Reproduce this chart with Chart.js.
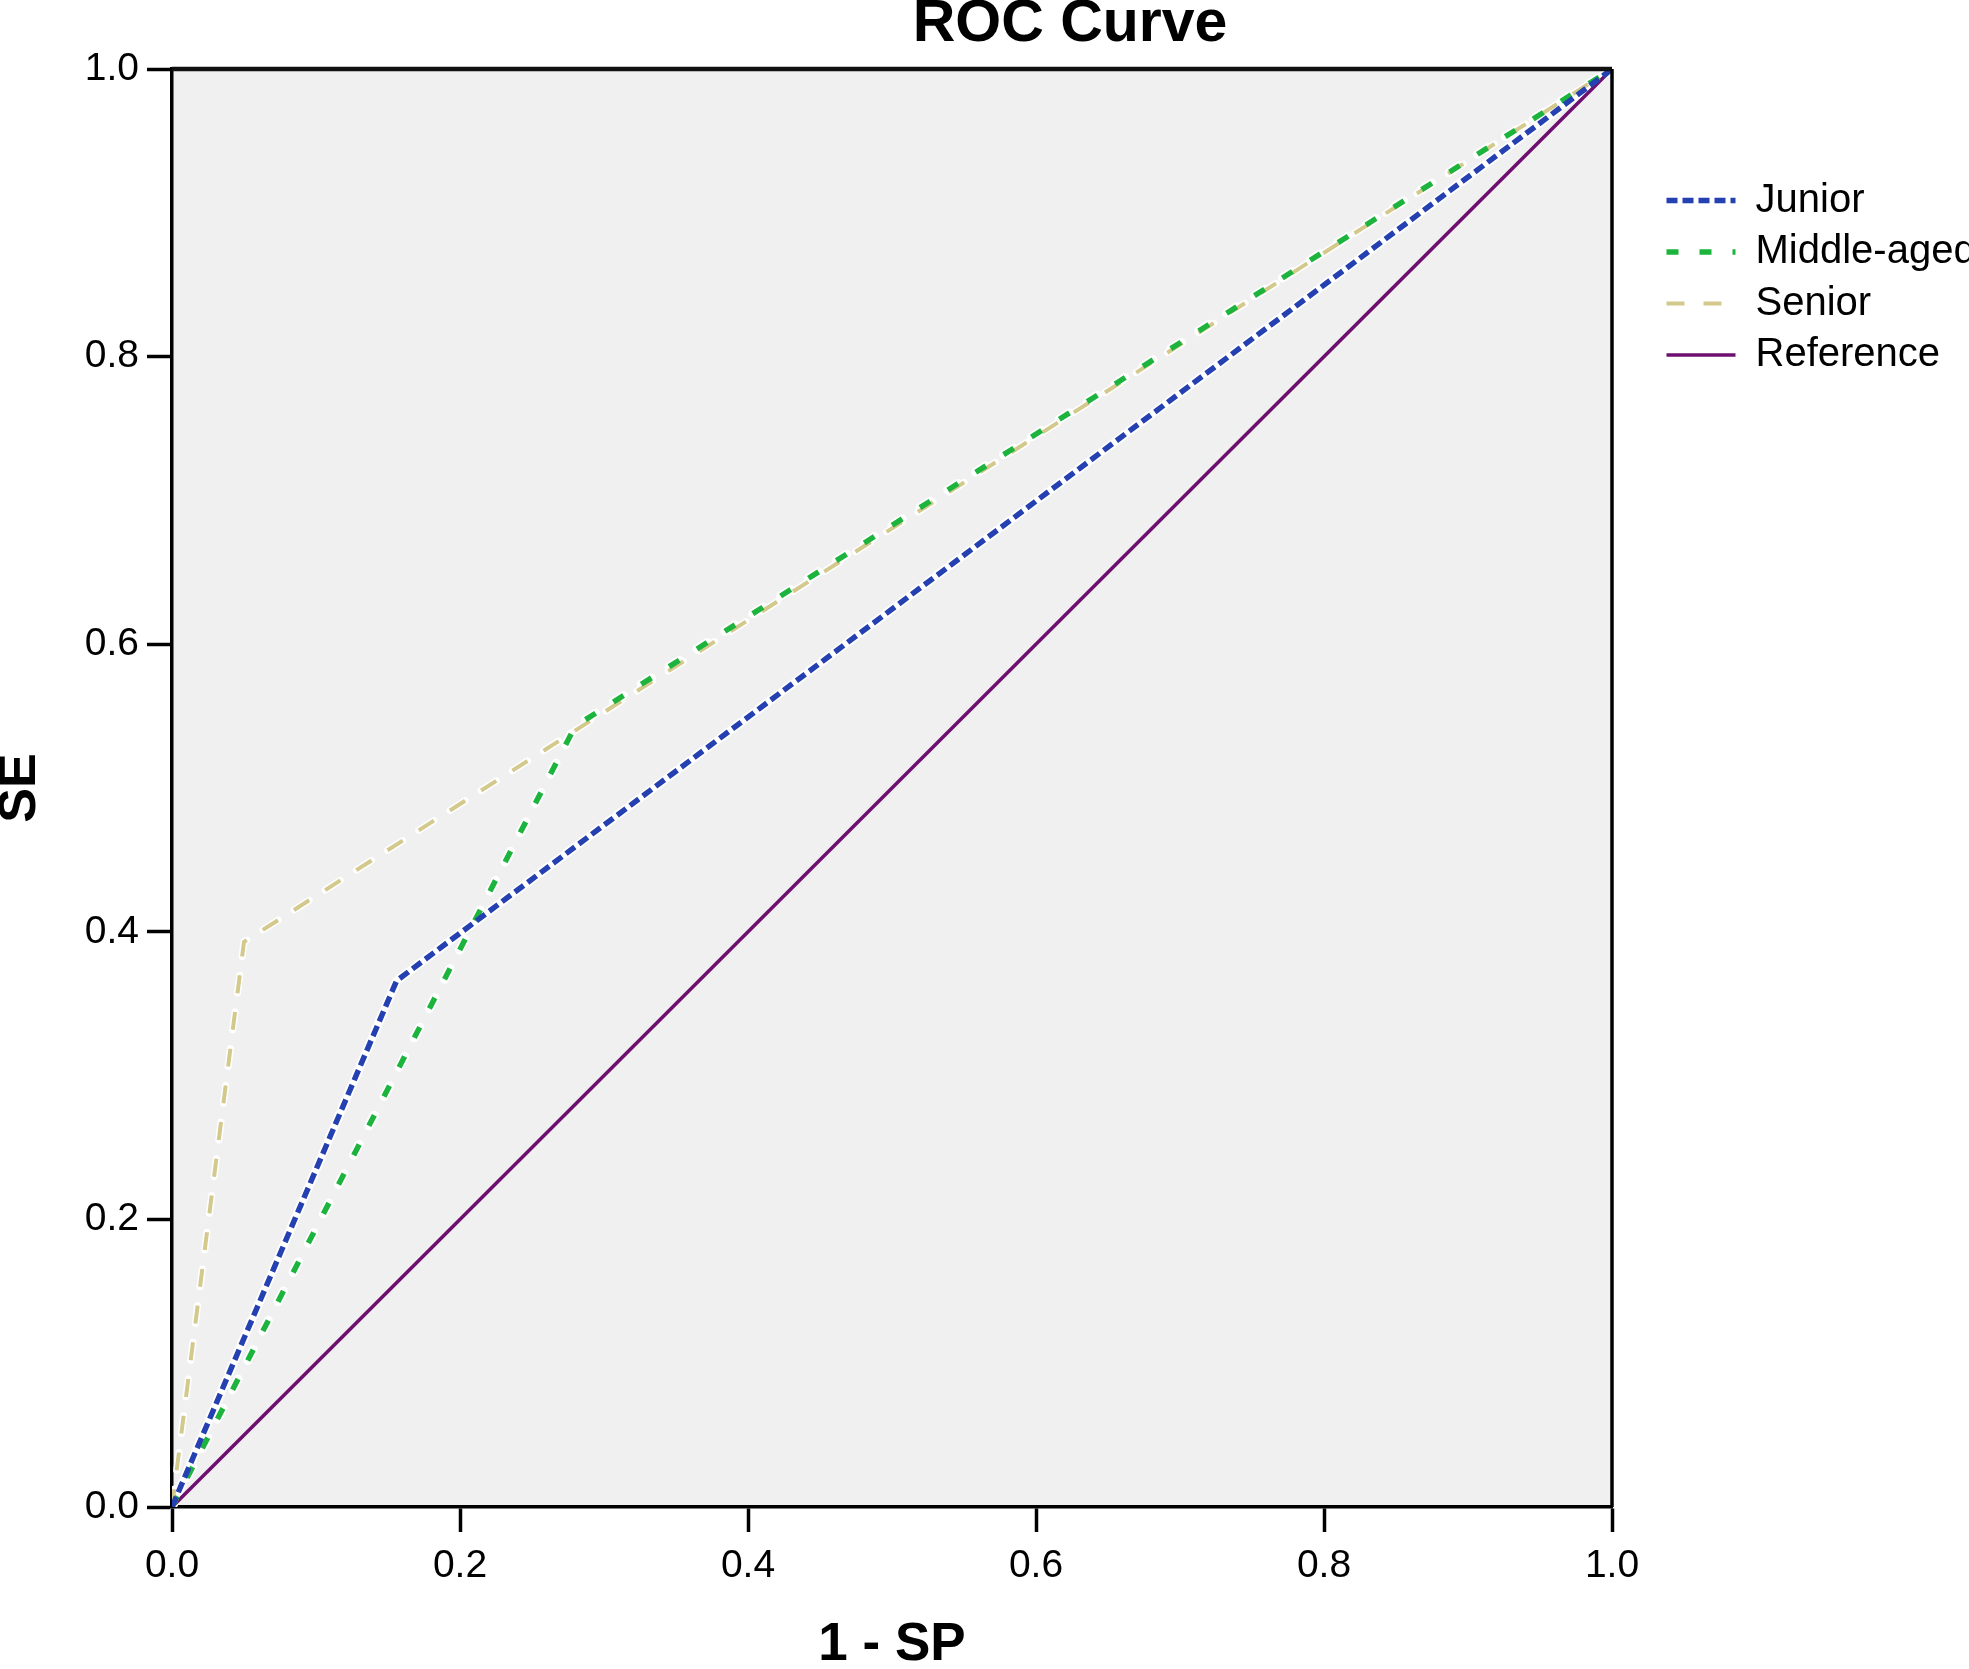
<!DOCTYPE html>
<html>
<head>
<meta charset="utf-8">
<script src="https://cdn.jsdelivr.net/npm/chart.js@4/dist/chart.umd.min.js"></script>
<style>
  html, body { margin: 0; padding: 0; background: #ffffff; }
  canvas { display: block; }
</style>
</head>
<body>
<canvas id="c" width="1969" height="1669" style="width:1969px;height:1669px"></canvas>
<script>
// ---- data ----
const seriesNames = ['Junior', 'Middle-aged', 'Senior', 'Reference'];
const juniorFPR = [0, 0.156, 1];
const juniorSE  = [0, 0.366, 1];
const middleFPR = [0, 0.280, 1];
const middleSE  = [0, 0.543, 1];
const seniorFPR = [0, 0.050, 1];
const seniorSE  = [0, 0.393, 1];
const refFPR    = [0, 1];
const refSE     = [0, 1];
const tickValues = [0, 0.2, 0.4, 0.6, 0.8, 1.0];

const FONT = "'Liberation Sans', Arial, Helvetica, sans-serif";
const pts = (xs, ys) => xs.map((x, i) => ({ x: x, y: ys[i] }));

const styles = [
  { color: '#2540b0', dash: [11, 5],  width: 5.5, halo: 9 },
  { color: '#1cb43c', dash: [12, 21], width: 5.5, halo: 9 },
  { color: '#d3c98d', dash: [18, 19], width: 4,   halo: 7 },
  { color: '#6e0f70', dash: [],       width: 3.5, halo: 0 }
];
const seriesData = [pts(juniorFPR, juniorSE), pts(middleFPR, middleSE), pts(seniorFPR, seniorSE), pts(refFPR, refSE)];

const datasets = [];
seriesData.forEach((d, i) => {
  datasets.push({
    label: seriesNames[i], data: d, showLine: true,
    borderColor: styles[i].color, backgroundColor: styles[i].color,
    borderWidth: styles[i].width, borderDash: styles[i].dash,
    borderCapStyle: 'butt', pointRadius: 0, pointHoverRadius: 0, tension: 0, order: 0
  });
});
seriesData.forEach((d, i) => {
  if (!styles[i].halo) return;
  datasets.push({
    label: '', data: d, showLine: true,
    borderColor: '#ffffff', backgroundColor: '#ffffff',
    borderWidth: styles[i].halo, borderDash: styles[i].dash,
    borderCapStyle: 'round', pointRadius: 0, pointHoverRadius: 0, tension: 0, order: 1
  });
});

const framePlugin = {
  id: 'framePlugin',
  afterLayout(chart) {
    const lg = chart.legend;
    if (lg) {
      const w = lg.width, h = lg.height;
      lg.left = 1655; lg.top = 169; lg.right = lg.left + w; lg.bottom = lg.top + h;
    }
    const t = chart.titleBlock;
    if (t) { t.left = 171; t.right = 1969; t.top -= 9.5; t.bottom -= 9.5; }
  },
  beforeDraw(chart) {
    const { ctx, chartArea: a } = chart;
    ctx.save();
    ctx.fillStyle = '#ffffff';
    ctx.fillRect(0, 0, chart.width, chart.height);
    ctx.fillStyle = '#f0f0f0';
    ctx.fillRect(a.left, a.top, a.right - a.left, a.bottom - a.top);
    ctx.restore();
  },
  afterDraw(chart) {
    const { ctx, chartArea: a } = chart;
    ctx.save();
    ctx.strokeStyle = '#111111';
    ctx.lineWidth = 4.5;
    ctx.beginPath();
    ctx.moveTo(a.left, a.top);
    ctx.lineTo(a.right, a.top);
    ctx.stroke();
    ctx.lineWidth = 3.5;
    ctx.strokeStyle = '#000000';
    ctx.beginPath();
    ctx.moveTo(a.right, a.top);
    ctx.lineTo(a.right, a.bottom);
    ctx.stroke();
    ctx.restore();
  }
};

const axisCommon = (titleText, titleSize, pad) => ({
  type: 'linear', min: 0, max: 1,
  afterBuildTicks: (s) => { s.ticks = tickValues.map(v => ({ value: v })); },
  ticks: { color: '#000', font: { family: FONT, size: 39 }, padding: pad,
           callback: (v) => Number(v).toFixed(1), maxRotation: 0, autoSkip: false },
  grid: { display: true, drawOnChartArea: false, drawTicks: true, tickLength: 25,
          tickColor: '#000', tickWidth: 3.5 },
  border: { display: true, color: '#000', width: 3.5 },
  title: { display: true, text: titleText, color: '#000',
           font: { family: FONT, size: titleSize, weight: 'bold', lineHeight: 0.8 },
           padding: { top: 0, bottom: 2 } }
});

const xAxis = axisCommon('1 - SP', 53, 11);
xAxis.position = 'bottom';
xAxis.afterFit = (s) => { s.height = 162; };
const yAxis = axisCommon('SE', 52, 8);
yAxis.position = 'left';
yAxis.afterFit = (s) => { s.width = 172; };

new Chart(document.getElementById('c'), {
  type: 'scatter',
  data: { datasets: datasets },
  options: {
    responsive: false, animation: false, devicePixelRatio: 1,
    layout: { padding: { left: 0, top: 0, right: 357, bottom: 0 } },
    scales: { x: xAxis, y: yAxis },
    plugins: {
      tooltip: { enabled: false },
      title: { display: true, text: 'ROC Curve', color: '#000',
               font: { family: FONT, size: 59, weight: 'bold', lineHeight: 69 / 59 },
               padding: { top: 0, bottom: 0 } },
      legend: {
        display: true, position: 'chartArea', fullSize: false, align: 'start',
        labels: {
          color: '#000', font: { family: FONT, size: 40 }, padding: 11.5,
          usePointStyle: true, pointStyle: 'line', pointStyleWidth: 69, boxWidth: 69, boxHeight: 40,
          generateLabels: (chart) => {
            const items = Chart.defaults.plugins.legend.labels.generateLabels(chart);
            return items.filter(it => it.datasetIndex < seriesNames.length).map(it => {
              const ds = chart.data.datasets[it.datasetIndex];
              it.pointStyle = 'line';
              it.lineDash = ds.borderDash;
              it.lineWidth = ds.borderWidth;
              it.strokeStyle = ds.borderColor;
              it.fillStyle = ds.borderColor;
              it.lineCap = 'butt';
              it.fontColor = '#000';
              return it;
            }).sort((a, b) => a.datasetIndex - b.datasetIndex);
          }
        }
      }
    }
  },
  plugins: [framePlugin]
});
</script>
</body>
</html>
